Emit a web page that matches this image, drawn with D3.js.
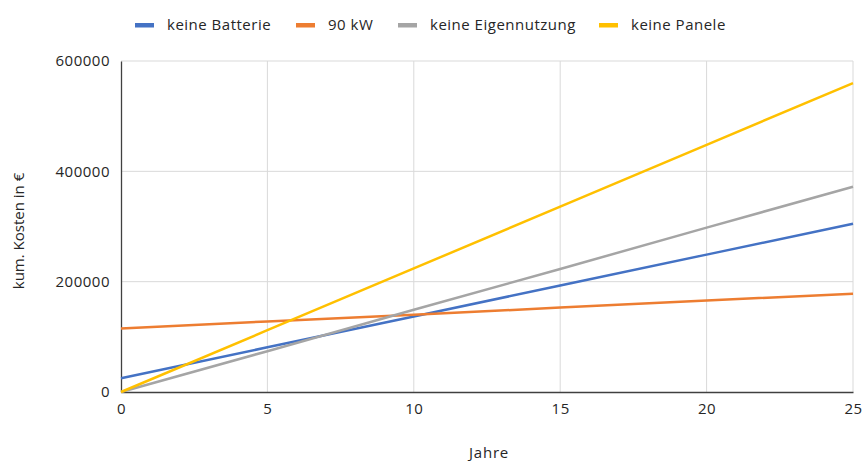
<!DOCTYPE html>
<html><head><meta charset="utf-8">
<script src="https://cdn.jsdelivr.net/npm/d3@7"></script>
<style>body{margin:0;background:#fff}svg{display:block}text{font-family:"Open Sans",sans-serif;fill:#262626}</style>
</head><body><svg id="c" width="863" height="461"></svg>
<script>
const years = [0, 5, 10, 15, 20, 25];
const seriesNames = ["keine Batterie", "90 kW", "keine Eigennutzung", "keine Panele"];
const keineBatterie = [25000, 81000, 137000, 193000, 249000, 305000];
const kw90 = [115000, 128000, 140000, 153000, 166000, 178000];
const keineEigennutzung = [0, 74000, 149000, 223000, 298000, 372000];
const keinePanele = [0, 112000, 224000, 336000, 448000, 560000];
const xTicks = [0, 5, 10, 15, 20, 25];
const yTicks = [0, 200000, 400000, 600000];
const colors = ["#4472C4", "#ED7D31", "#A5A5A5", "#FFC000"];
const allSeries = [keineBatterie, kw90, keineEigennutzung, keinePanele];

const svg = d3.select("#c");
const m = {l:121, r:853, t:61, b:392};
const x = d3.scaleLinear().domain([0,25]).range([m.l, m.r]);
const y = d3.scaleLinear().domain([0,600000]).range([m.b, m.t]);

// grid
svg.append("g").selectAll("line").data(xTicks.filter(d=>d>0)).join("line")
  .attr("x1",d=>x(d)).attr("x2",d=>x(d)).attr("y1",m.t).attr("y2",m.b)
  .attr("stroke","#d9d9d9").attr("stroke-width",1);
svg.append("g").selectAll("line").data(yTicks.filter(d=>d>0)).join("line")
  .attr("x1",m.l).attr("x2",m.r).attr("y1",d=>y(d)).attr("y2",d=>y(d))
  .attr("stroke","#d9d9d9").attr("stroke-width",1);

// axes
const xAxis = svg.append("g").attr("transform",`translate(0,${m.b})`)
  .call(d3.axisBottom(x).tickValues(xTicks).tickSize(0).tickPadding(11));
xAxis.select(".domain").attr("stroke","#404040").attr("stroke-width",1.3);
xAxis.selectAll("text").attr("font-size",15).attr("letter-spacing",0.5).style("font-family","'Open Sans',sans-serif").attr("fill","#262626");
const yAxis = svg.append("g").attr("transform",`translate(${m.l},0)`)
  .call(d3.axisLeft(y).tickValues(yTicks).tickFormat(d3.format("d")).tickSize(0).tickPadding(11));
yAxis.select(".domain").attr("stroke","#404040").attr("stroke-width",1.3);
yAxis.selectAll("text").attr("font-size",15).attr("letter-spacing",0.5).style("font-family","'Open Sans',sans-serif").attr("fill","#262626");

// lines
const line = d3.line().x((d,i)=>x(years[i])).y(d=>y(d));
allSeries.forEach((s,k)=>{
  svg.append("path").datum(s).attr("d",line).attr("fill","none")
    .attr("stroke",colors[k]).attr("stroke-width",2.5);
});

// legend
const legX = [135, 296, 398, 599];
seriesNames.forEach((n,k)=>{
  svg.append("rect").attr("x",legX[k]).attr("y",23).attr("width",19).attr("height",4.5).attr("fill",colors[k]);
  svg.append("text").attr("x",legX[k]+32).attr("y",30).attr("font-size",15).attr("letter-spacing",0.5).text(n);
});

// axis titles
svg.append("text").attr("x",489).attr("y",458).attr("text-anchor","middle").attr("font-size",15).attr("letter-spacing",0.8).text("Jahre");
svg.append("text").attr("transform","translate(24,231) rotate(-90)").attr("text-anchor","middle").attr("font-size",15).text("kum. Kosten in €");
</script></body></html>
